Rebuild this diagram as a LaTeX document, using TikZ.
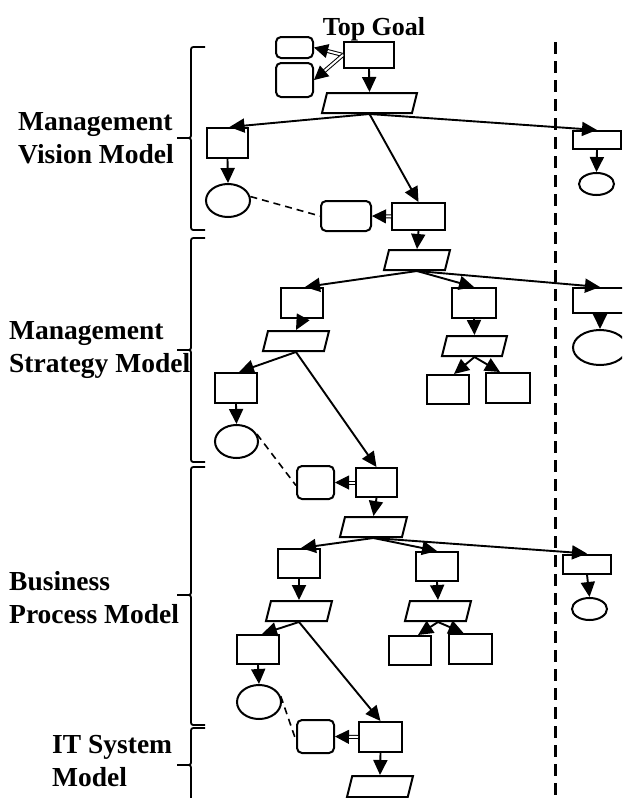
\documentclass[tikz,border=0pt]{standalone}
\usepackage{fontspec}
\setmainfont{Liberation Serif}
\usetikzlibrary{shapes.geometric,arrows.meta,calc}
\newcommand\mybrace[3]{%
  \draw[bracestyle] (205,#1) -- (196,#1) .. controls (191,#1) .. (191,#1+5) -- (191,#2-5) .. controls (191,#2) .. (186,#2) -- (177,#2)
    (177,#2) -- (186,#2) .. controls (191,#2) .. (191,#2+5) -- (191,#3-5) .. controls (191,#3) .. (196,#3) -- (205,#3);}
\newcommand\dblarrow[2]{%
  \draw[dblline, shorten >=12pt] (#1) -- (#2);
  \draw[dblhead] ($(#2)!13pt!(#1)$) -- (#2);}
\begin{document}
\begin{tikzpicture}[x=1pt,y=-1pt,
  box/.style={draw, line width=2pt, rectangle, inner sep=0pt, fill=white},
  rbox/.style={draw, line width=2pt, rectangle, rounded corners=5pt, inner sep=0pt, fill=white},
  ell/.style={draw, line width=2pt, ellipse, inner sep=0pt, fill=white},
  para/.style={draw, line width=2pt, trapezium, trapezium left angle=76, trapezium right angle=104,
    trapezium stretches body, inner xsep=0pt, inner ysep=10pt, fill=white},
  sz/.style 2 args={minimum width=#1pt, minimum height=#2pt},
  arr/.style={-{Triangle[length=15pt,width=14pt]}, line width=1.9pt},
  dblline/.style={line width=1pt, double distance=2pt},
  dblhead/.style={-{Triangle[length=14pt,width=14pt]}, line width=1pt},
  assoc/.style={line width=1.6pt, dash pattern=on 7pt off 5pt},
  bracestyle/.style={line width=1.8pt},
  dashline/.style={line width=3pt, dash pattern=on 12pt off 7pt},
  lbl/.style={font=\fontsize{27.5}{33}\selectfont\bfseries, align=left, anchor=west, inner sep=0pt}
]
\useasboundingbox (0,0) rectangle (622,798);
\clip (0,0) rectangle (622,798);

% labels
\node[font=\fontsize{26}{33}\selectfont\bfseries, anchor=base, inner sep=0pt] (tgl) at (374,35) {Top Goal};
\node[lbl] (l1) at (18,138.5) {Management\\Vision Model};
\node[lbl] (l2) at (9,350) {Management\\Strategy Model};
\node[lbl] (l3) at (9,598) {Business\\Process Model};
\node[lbl] (l4) at (52,761) {IT System\\Model};

% braces
\mybrace{47}{138}{230}
\mybrace{238}{350}{462}
\mybrace{467}{595}{725}
\mybrace{728}{765}{815}

% dashed separator
\coordinate (dtop) at (555,42);
\coordinate (dbot) at (555,800);
\draw[dashline] (dtop) -- (dbot);

% vision level
\node[box, sz={50}{26}] (TG) at (369,55) {};
\node[rbox, sz={37}{21}] (Rr1) at (294.5,47.5) {};
\node[rbox, sz={37}{34}] (Rr2) at (294.5,80) {};
\node[para, minimum width=95pt] (P1) at (369.5,103) {};
\node[box, sz={41}{30}] (A) at (227.5,143) {};
\node[ell, sz={44}{33}] (E1) at (228,200.5) {};
\node[rbox, sz={50}{30}] (B) at (346,216) {};
\node[box, sz={53}{27}] (C) at (418.5,216.5) {};
\node[box, sz={48}{18}] (R1) at (597,140) {};
\node[ell, sz={35}{22}] (RE1) at (596.5,184) {};

% strategy level
\node[para, minimum width=66pt] (P2) at (417,260) {};
\node[box, sz={42}{30}] (D) at (302,303) {};
\node[box, sz={44}{30}] (Ebx) at (474,303) {};
\node[box, sz={54}{25}] (R2) at (600,300.5) {};
\node[ell, sz={54}{35}] (RE2) at (600,347.5) {};
\node[para, minimum width=66pt] (P3) at (296,341) {};
\node[para, minimum width=65pt] (P4) at (474.5,346) {};
\node[box, sz={42}{30}] (F) at (236,388) {};
\node[box, sz={42}{29}] (Q1) at (448,389.5) {};
\node[box, sz={44}{30}] (Q2) at (508,388) {};
\node[ell, sz={43}{33}] (E2) at (236.5,441.5) {};
\node[rbox, sz={37}{33}] (H) at (315.5,482.5) {};
\node[box, sz={41}{29}] (G) at (376.5,482.5) {};

% process level
\node[para, minimum width=67pt] (P5) at (373.5,527) {};
\node[box, sz={42}{29}] (I) at (299,563.5) {};
\node[box, sz={42}{29}] (J) at (437,566.5) {};
\node[box, sz={48}{19}] (R3) at (587,564) {};
\node[ell, sz={35}{22}] (RE3) at (589.5,609) {};
\node[para, minimum width=66pt] (P6) at (299,611) {};
\node[para, minimum width=66pt] (P7) at (438,611) {};
\node[box, sz={42}{29}] (K) at (258,649.5) {};
\node[box, sz={42}{29}] (M) at (410,650.5) {};
\node[box, sz={43}{30}] (N) at (470.5,649) {};
\node[ell, sz={44}{34}] (E3) at (259,702) {};
\node[rbox, sz={37}{33}] (O) at (315.5,736.5) {};
\node[box, sz={43}{30}] (L) at (380.5,737) {};
\node[para, minimum width=66pt, inner ysep=10.5pt] (P8) at (380,786.5) {};

% connectors: vision
\dblarrow{TG.west}{Rr1.east}
\dblarrow{TG.west}{Rr2.east}
\draw[arr] (TG.south) -- (P1.north);
\draw[arr] (P1.south) -- ([xshift=2pt]A.north);
\draw[arr] (P1.south) -- (C.north);
\draw[arr] (P1.south) -- (R1.north);
\draw[arr] (A.south) -- (E1.north);
\draw[arr] (R1.south) -- (RE1.north);
\dblarrow{C.west}{B.east}
\draw[assoc] (E1.10) -- (B.west);
\draw[arr] (C.south) -- (P2.north);

% connectors: strategy
\draw[arr] (P2.south) -- ([xshift=3pt]D.north);
\draw[arr] (P2.south) -- (Ebx.north);
\draw[arr] (P2.south) -- (R2.north);
\draw[arr] (R2.south) -- (RE2.north);
\draw[arr] (D.south) -- (P3.north);
\draw[arr] (Ebx.south) -- (P4.north);
\draw[arr] (P3.south) -- ([xshift=3pt]F.north);
\draw[arr] (P3.south) -- (G.north);
\draw[arr] (P4.south) -- ([xshift=6pt]Q1.north);
\draw[arr] (P4.south) -- ([xshift=-8pt]Q2.north);
\draw[arr] (F.south) -- (E2.north);
\draw[assoc] (E2.20) -- ([yshift=-3pt]H.west);
\dblarrow{G.west}{H.east}
\draw[arr] (G.south) -- (P5.north);

% connectors: process
\draw[arr] (P5.south) -- ([xshift=2pt]I.north);
\draw[arr] (P5.south) -- (J.north);
\draw[arr] (P5.south) -- (R3.north);
\draw[arr] (R3.south) -- (RE3.north);
\draw[arr] (I.south) -- (P6.north);
\draw[arr] (J.south) -- (P7.north);
\draw[arr] (P6.south) -- ([xshift=4pt]K.north);
\draw[arr] (P6.south) -- (L.north);
\draw[arr] (P7.south) -- ([xshift=8pt]M.north);
\draw[arr] (P7.south) -- ([xshift=-7pt]N.north);
\draw[arr] (K.south) -- (E3.north);
\draw[assoc] (E3.15) -- ([yshift=-4pt]O.west);
\dblarrow{L.west}{O.east}
\draw[arr] (L.south) -- (P8.north);
\end{tikzpicture}
\end{document}
